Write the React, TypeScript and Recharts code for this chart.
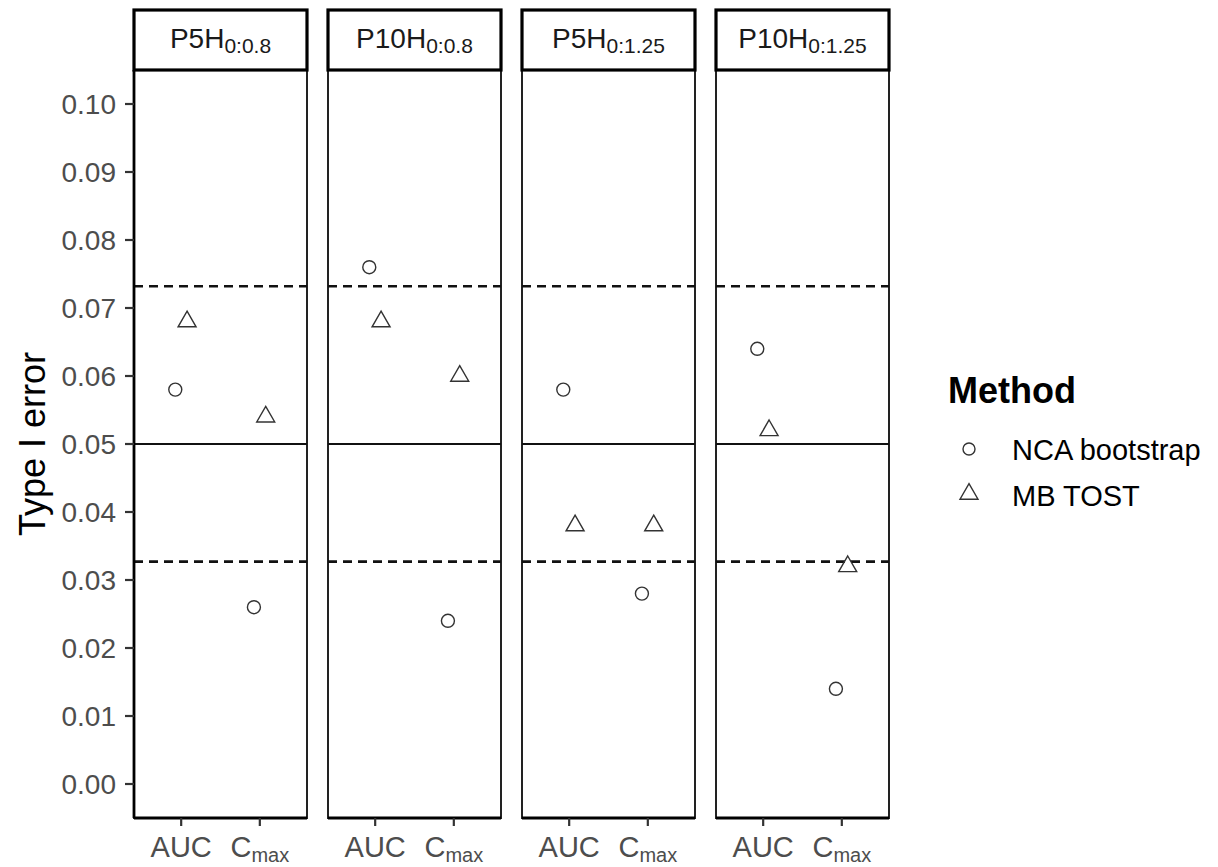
import {
  ScatterChart,
  Scatter,
  XAxis,
  YAxis,
  ReferenceLine,
  ReferenceArea,
} from 'recharts';

const PANEL_NAMES = ['P5H', 'P10H', 'P5H', 'P10H'];
const PANEL_SUBS = ['0:0.8', '0:0.8', '0:1.25', '0:1.25'];
const METRICS = ['AUC', 'Cmax'];

// Type I error per panel: [AUC, Cmax]
const NCA_BOOTSTRAP = [
  [0.058, 0.026],
  [0.076, 0.024],
  [0.058, 0.028],
  [0.064, 0.014],
];
const MB_TOST = [
  [0.068, 0.054],
  [0.068, 0.06],
  [0.038, 0.038],
  [0.052, 0.032],
];

const Y_TICKS = [0, 0.01, 0.02, 0.03, 0.04, 0.05, 0.06, 0.07, 0.08, 0.09, 0.1];
const NOMINAL = 0.05;
const LIMITS = [0.0327, 0.0732];

const FONT = '"Liberation Sans", Arial, sans-serif';
const PANEL_W = 173;
const PANEL_LEFTS = [134, 328, 522, 716];
const PLOT_TOP = 70;
const PLOT_BOTTOM = 818;
const H = 867;
const DODGE = 0.075;

const toPoints = (values: number[], shift: number) =>
  values.map((y, i) => ({ x: i + 1 + shift, y }));

const OpenCircle = (p: any) => (
  <circle cx={p.cx} cy={p.cy} r={6.5} fill="none" stroke="#333" strokeWidth={1.4} />
);

const OpenTriangle = (p: any) => {
  const r = 10.4;
  const hw = 9;
  return (
    <path
      d={`M${p.cx},${p.cy - r} L${p.cx + hw},${p.cy + r / 2} L${p.cx - hw},${p.cy + r / 2} Z`}
      fill="none"
      stroke="#333"
      strokeWidth={1.4}
    />
  );
};

const MetricTick = (props: any) => {
  const { x, y, payload } = props;
  const label = METRICS[Math.round(payload.value) - 1];
  const style = { fontFamily: FONT, fontSize: 29, fill: '#4D4D4D' };
  if (label === 'Cmax') {
    return (
      <text x={x} y={y + 29} textAnchor="middle" style={style}>
        <tspan>C</tspan>
        <tspan fontSize={20} dy={5}>max</tspan>
      </text>
    );
  }
  return (
    <text x={x} y={y + 29} textAnchor="middle" style={style}>
      {label}
    </text>
  );
};

function Panel({ index }: { index: number }) {
  const first = index === 0;
  const yAxisW = first ? PANEL_LEFTS[0] : 0;
  const padL = first ? 0 : 5;
  const left = PANEL_LEFTS[index] - yAxisW - padL;
  const width = yAxisW + padL + PANEL_W + 5;
  const nca = toPoints(NCA_BOOTSTRAP[index], -DODGE);
  const mb = toPoints(MB_TOST[index], DODGE);

  return (
    <div style={{ position: 'absolute', left, top: 0 }}>
      <ScatterChart
        width={width}
        height={H}
        margin={{ top: PLOT_TOP, right: 5, bottom: 0, left: padL }}
      >
        <ReferenceArea
          x1={0.4}
          x2={2.6}
          y1={-0.005}
          y2={0.105}
          fill="none"
          stroke="#222"
          strokeWidth={2}
          ifOverflow="visible"
        />
        <ReferenceLine y={NOMINAL} stroke="#111" strokeWidth={2} />
        {LIMITS.map((v) => (
          <ReferenceLine key={v} y={v} stroke="#111" strokeWidth={2.6} strokeDasharray="9 6" />
        ))}
        <XAxis
          type="number"
          dataKey="x"
          domain={[0.4, 2.6]}
          ticks={[1, 2]}
          height={H - PLOT_BOTTOM}
          tick={<MetricTick />}
          tickSize={8}
          tickMargin={2}
          axisLine={{ stroke: '#000', strokeWidth: 2.8 }}
          tickLine={{ stroke: '#333', strokeWidth: 2.2 }}
          interval={0}
        />
        <YAxis
          type="number"
          dataKey="y"
          domain={[-0.005, 0.105]}
          ticks={Y_TICKS}
          hide={!first}
          width={yAxisW}
          tickFormatter={(v: number) => v.toFixed(2)}
          tick={{ fontFamily: FONT, fontSize: 28, fill: '#4D4D4D' }}
          tickSize={9}
          tickMargin={9}
          axisLine={{ stroke: '#000', strokeWidth: 2.8 }}
          tickLine={{ stroke: '#333', strokeWidth: 2.2 }}
          interval={0}
          allowDataOverflow
          label={{
            value: 'Type I error',
            angle: -90,
            position: 'insideLeft',
            offset: 32,
            style: { textAnchor: 'middle', fontFamily: FONT, fontSize: 36, fill: '#000' },
          }}
        />
        <Scatter name="NCA bootstrap" data={nca} shape={OpenCircle} isAnimationActive={false} />
        <Scatter name="MB TOST" data={mb} shape={OpenTriangle} isAnimationActive={false} />
      </ScatterChart>
    </div>
  );
}

function Overlay() {
  return (
    <svg
      width={1218}
      height={H}
      style={{ position: 'absolute', left: 0, top: 0, pointerEvents: 'none' }}
    >
      {PANEL_LEFTS.map((x, i) => (
        <g key={i}>
          <rect x={x} y={10} width={PANEL_W} height={60} fill="#fff" stroke="#000" strokeWidth={3.2} />
          <text
            x={x + PANEL_W / 2}
            y={48}
            textAnchor="middle"
            style={{ fontFamily: FONT, fontSize: 28, fill: '#1A1A1A' }}
          >
            <tspan>{PANEL_NAMES[i]}</tspan>
            <tspan fontSize={21} dy={5}>{PANEL_SUBS[i]}</tspan>
          </text>
        </g>
      ))}
      <text x={948} y={403} style={{ fontFamily: FONT, fontSize: 36, fontWeight: 'bold', fill: '#000' }}>
        Method
      </text>
      <circle cx={969} cy={449} r={6} fill="none" stroke="#333" strokeWidth={1.4} />
      <text x={1012} y={460} style={{ fontFamily: FONT, fontSize: 29, fill: '#000' }}>
        NCA bootstrap
      </text>
      <path d="M969,483.6 L978,499.2 L960,499.2 Z" fill="none" stroke="#333" strokeWidth={1.4} />
      <text x={1012} y={506} style={{ fontFamily: FONT, fontSize: 29, fill: '#000' }}>
        MB TOST
      </text>
    </svg>
  );
}

export default function App() {
  return (
    <div
      style={{
        position: 'absolute',
        left: 0,
        top: 0,
        width: 1218,
        height: H,
        background: '#fff',
        overflow: 'hidden',
      }}
    >
      {PANEL_NAMES.map((_, i) => (
        <Panel key={i} index={i} />
      ))}
      <Overlay />
    </div>
  );
}
